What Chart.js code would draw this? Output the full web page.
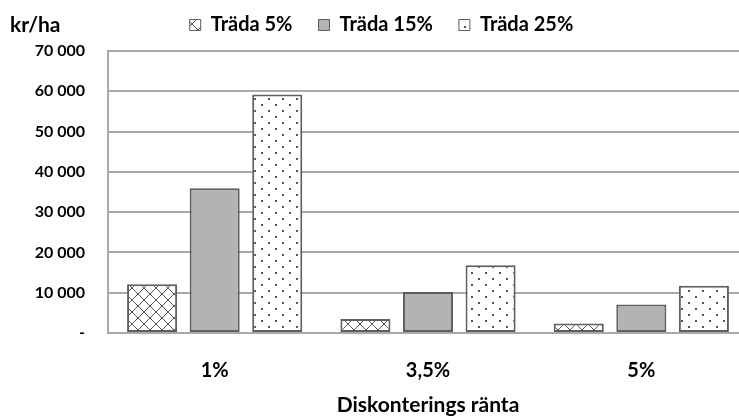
<!DOCTYPE html>
<html lang="sv">
<head>
<meta charset="UTF-8">
<title>Träda</title>
<script src="https://cdn.jsdelivr.net/npm/chart.js"></script>
<style>
    body { margin: 0; background: #fff; overflow: hidden; }
    /* the original chart is cut off at the right edge, so the canvas is a bit wider than the window */
    .wrap { position: relative; width: 763px; height: 416px; }
</style>
</head>
<body>
<div class="wrap"><canvas id="chart"></canvas></div>
<script>
    // data
    const rates = ['1%', '3,5%', '5%'];
    const trada5 = [12100, 3500, 2350];
    const trada15 = [35900, 10200, 7050];
    const trada25 = [59200, 16800, 11750];
    const seriesNames = ['Träda 5%', 'Träda 15%', 'Träda 25%'];

    const FONT = 'Lato, "Open Sans", sans-serif';
    const EDGE = '#5f5f5f';
    const GRID = '#a9a9a9';

    function makePattern(kind) {
        const c = document.createElement('canvas');
        const g = c.getContext('2d');
        if (kind === 'cross') {
            c.width = 12; c.height = 12;
            g.fillStyle = '#fff'; g.fillRect(0, 0, 12, 12);
            g.strokeStyle = '#555'; g.lineWidth = 1;
            g.beginPath();
            g.moveTo(0, 0); g.lineTo(12, 12);
            g.moveTo(12, 0); g.lineTo(0, 12);
            g.stroke();
        } else {
            c.width = 14; c.height = 12;
            g.fillStyle = '#fff'; g.fillRect(0, 0, 14, 12);
            g.fillStyle = '#555';
            g.fillRect(2, 2, 2, 2);
            g.fillRect(9, 8, 2, 2);
        }
        return g.createPattern(c, 'repeat');
    }

    // "kr/ha" unit label in the top-left corner
    const unitLabel = {
        id: 'unitLabel',
        afterDraw(chart) {
            const ctx = chart.ctx;
            ctx.save();
            ctx.font = 'bold 21px ' + FONT;
            ctx.fillStyle = '#000';
            ctx.textBaseline = 'alphabetic';
            ctx.fillText('kr/ha', 10, 32);
            ctx.restore();
        }
    };

    function fmt(v) {
        if (v === 0) return '-';
        return String(v).replace(/\B(?=(\d{3})+(?!\d))/g, ' ');
    }

    new Chart(document.getElementById('chart'), {
        type: 'bar',
        data: {
            labels: rates,
            datasets: [
                { label: seriesNames[0], data: trada5, backgroundColor: makePattern('cross') },
                { label: seriesNames[1], data: trada15, backgroundColor: '#b3b3b3' },
                { label: seriesNames[2], data: trada25, backgroundColor: makePattern('dots') }
            ]
        },
        options: {
            responsive: true,
            maintainAspectRatio: false,
            animation: false,
            // left padding 15 so the legend sits where it does in the original
            layout: { padding: { top: -11, right: 15, bottom: 0, left: 15 } },
            datasets: {
                bar: {
                    borderColor: EDGE,
                    borderWidth: 2,
                    borderSkipped: false,
                    categoryPercentage: 0.88,
                    barPercentage: 0.8
                }
            },
            plugins: {
                legend: {
                    position: 'top',
                    weight: 3000,
                    labels: {
                        color: '#000',
                        font: { family: FONT, size: 20, weight: 'bold' },
                        boxWidth: 11,
                        boxHeight: 11,
                        padding: 26,
                        generateLabels(chart) {
                            const items = Chart.defaults.plugins.legend.labels.generateLabels(chart);
                            items.forEach(it => { it.lineWidth = 1; });
                            return items;
                        }
                    }
                },
                // empty spacer between legend and plot
                subtitle: {
                    display: true,
                    text: '',
                    weight: 1500,
                    font: { size: 1, lineHeight: 1 },
                    padding: { top: 5, bottom: 0 }
                },
                tooltip: { enabled: false }
            },
            scales: {
                x: {
                    afterFit(scale) { scale.height = 83; },
                    grid: { display: false, drawTicks: false },
                    border: { display: true, color: GRID, width: 2 },
                    ticks: {
                        color: '#000',
                        padding: 26,
                        font: { family: FONT, size: 20, weight: 'bold' }
                    },
                    title: {
                        display: true,
                        text: 'Diskonterings ränta',
                        color: '#000',
                        padding: { top: 0, bottom: 0 },
                        font: { family: FONT, size: 21, weight: 'bold', lineHeight: 1 }
                    }
                },
                y: {
                    min: 0,
                    max: 70000,
                    afterFit(scale) { scale.width = 93; },
                    grid: { color: GRID, lineWidth: 2, drawTicks: false },
                    border: { display: true, color: GRID, width: 2 },
                    ticks: {
                        stepSize: 10000,
                        color: '#000',
                        padding: 23,
                        font: { family: FONT, size: 16, weight: 'bold' },
                        callback: v => fmt(v)
                    }
                }
            }
        },
        plugins: [unitLabel]
    });
</script>
</body>
</html>
